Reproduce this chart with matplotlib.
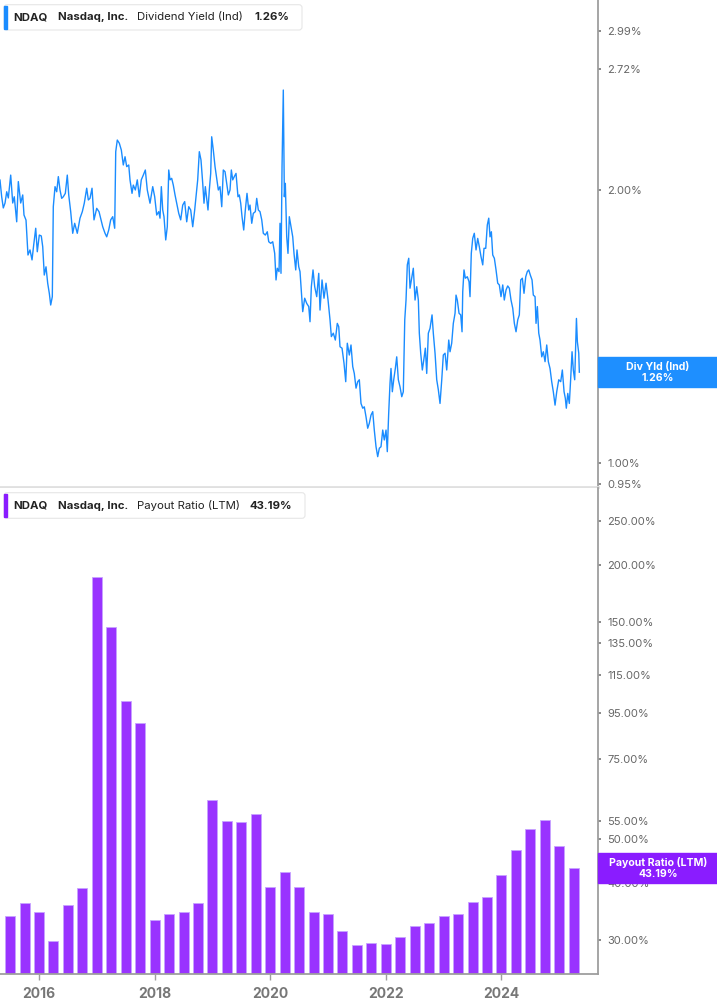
import matplotlib
matplotlib.use('Agg')
import matplotlib.pyplot as plt
from matplotlib.patches import Rectangle, FancyBboxPatch
from matplotlib.transforms import IdentityTransform
from matplotlib.ticker import NullLocator

plt.rcParams['font.family'] = ['Inter', 'DejaVu Sans']

# dividend yield (ind), %, decimal years
yield_t = [
    2015.325, 2015.354, 2015.382, 2015.412, 2015.441, 2015.469, 2015.510, 2015.545, 2015.572, 2015.614,
    2015.642, 2015.683, 2015.718, 2015.740, 2015.775, 2015.809, 2015.844, 2015.879, 2015.908, 2015.943,
    2015.970, 2016.005, 2016.039, 2016.064, 2016.091, 2016.121, 2016.150, 2016.178, 2016.202, 2016.230,
    2016.247, 2016.277, 2016.306, 2016.334, 2016.363, 2016.392, 2016.420, 2016.455, 2016.489, 2016.514,
    2016.548, 2016.583, 2016.617, 2016.662, 2016.709, 2016.749, 2016.783, 2016.825, 2016.853, 2016.882,
    2016.917, 2016.951, 2016.998, 2017.038, 2017.072, 2017.102, 2017.142, 2017.171, 2017.206, 2017.240,
    2017.275, 2017.309, 2017.327, 2017.354, 2017.389, 2017.424, 2017.458, 2017.488, 2017.517, 2017.552,
    2017.574, 2017.609, 2017.631, 2017.666, 2017.700, 2017.735, 2017.769, 2017.804, 2017.839, 2017.873,
    2017.908, 2017.920, 2017.967, 2018.001, 2018.036, 2018.071, 2018.093, 2018.116, 2018.140, 2018.162,
    2018.192, 2018.219, 2018.244, 2018.266, 2018.295, 2018.323, 2018.353, 2018.382, 2018.417, 2018.451,
    2018.486, 2018.520, 2018.555, 2018.590, 2018.624, 2018.659, 2018.693, 2018.716, 2018.745, 2018.773,
    2018.802, 2018.832, 2018.854, 2018.877, 2018.901, 2018.923, 2018.946, 2018.970, 2018.987, 2019.015,
    2019.045, 2019.074, 2019.102, 2019.131, 2019.161, 2019.188, 2019.218, 2019.247, 2019.275, 2019.304,
    2019.327, 2019.351, 2019.378, 2019.408, 2019.442, 2019.465, 2019.489, 2019.512, 2019.541, 2019.569,
    2019.598, 2019.628, 2019.650, 2019.680, 2019.707, 2019.742, 2019.766, 2019.794, 2019.823, 2019.853,
    2019.880, 2019.915, 2019.949, 2019.974, 2020.008, 2020.043, 2020.077, 2020.100, 2020.122, 2020.152,
    2020.169, 2020.186, 2020.204, 2020.226, 2020.244, 2020.261, 2020.285, 2020.307, 2020.330, 2020.359,
    2020.389, 2020.411, 2020.441, 2020.463, 2020.493, 2020.515, 2020.562, 2020.596, 2020.631, 2020.666,
    2020.688, 2020.711, 2020.740, 2020.769, 2020.804, 2020.839, 2020.861, 2020.896, 2020.930, 2020.965,
    2021.000, 2021.034, 2021.057, 2021.091, 2021.126, 2021.160, 2021.185, 2021.207, 2021.242, 2021.276,
    2021.306, 2021.333, 2021.368, 2021.397, 2021.427, 2021.454, 2021.484, 2021.513, 2021.541, 2021.570,
    2021.600, 2021.627, 2021.657, 2021.686, 2021.714, 2021.743, 2021.773, 2021.800, 2021.830, 2021.859,
    2021.887, 2021.916, 2021.946, 2021.973, 2022.003, 2022.025, 2022.049, 2022.072, 2022.089, 2022.112,
    2022.136, 2022.164, 2022.188, 2022.216, 2022.245, 2022.275, 2022.302, 2022.327, 2022.349, 2022.371,
    2022.396, 2022.418, 2022.447, 2022.475, 2022.505, 2022.534, 2022.562, 2022.579, 2022.603, 2022.631,
    2022.660, 2022.683, 2022.707, 2022.735, 2022.764, 2022.799, 2022.821, 2022.851, 2022.880, 2022.908,
    2022.937, 2022.967, 2022.994, 2023.024, 2023.053, 2023.088, 2023.110, 2023.139, 2023.167, 2023.197,
    2023.214, 2023.236, 2023.266, 2023.295, 2023.318, 2023.330, 2023.352, 2023.375, 2023.409, 2023.439,
    2023.456, 2023.478, 2023.503, 2023.530, 2023.560, 2023.589, 2023.617, 2023.646, 2023.676, 2023.698,
    2023.728, 2023.755, 2023.780, 2023.802, 2023.825, 2023.849, 2023.877, 2023.906, 2023.935, 2023.963,
    2023.992, 2024.022, 2024.049, 2024.079, 2024.108, 2024.136, 2024.165, 2024.195, 2024.223, 2024.252,
    2024.282, 2024.309, 2024.333, 2024.361, 2024.390, 2024.420, 2024.447, 2024.472, 2024.499, 2024.529,
    2024.551, 2024.581, 2024.598, 2024.621, 2024.645, 2024.667, 2024.697, 2024.724, 2024.754, 2024.783,
    2024.811, 2024.840, 2024.869, 2024.897, 2024.927, 2024.956, 2024.991, 2025.025, 2025.053, 2025.083,
    2025.105, 2025.122, 2025.147, 2025.174, 2025.198, 2025.221, 2025.243, 2025.267, 2025.297, 2025.313,
    2025.337, 2025.347,
]
yield_v = [
    2.051, 1.966, 1.911, 1.935, 1.991, 1.960, 2.077, 1.935, 1.966, 1.845,
    2.043, 1.935, 1.975, 1.877, 1.853, 1.696, 1.718, 1.675, 1.740, 1.815,
    1.710, 1.784, 1.780, 1.732, 1.612, 1.646, 1.579, 1.539, 1.494, 1.526,
    1.917, 2.017, 1.991, 2.069, 2.000, 1.958, 1.966, 1.983, 2.077, 1.975,
    1.893, 1.792, 1.838, 1.792, 1.862, 1.893, 1.934, 2.009, 1.950, 1.958,
    2.009, 1.854, 1.909, 1.893, 1.854, 1.822, 1.792, 1.776, 1.807, 1.854,
    1.869, 1.815, 2.204, 2.270, 2.252, 2.213, 2.131, 2.176, 2.122, 2.131,
    2.052, 1.983, 2.025, 2.000, 2.052, 1.966, 2.052, 2.077, 2.104, 2.000,
    1.950, 1.934, 2.017, 1.966, 1.877, 1.893, 1.862, 2.017, 1.901, 1.869,
    1.762, 1.822, 2.104, 2.052, 2.060, 2.025, 1.975, 1.934, 1.885, 1.854,
    1.925, 1.942, 1.845, 1.917, 1.901, 1.822, 1.901, 1.966, 2.052, 2.204,
    2.158, 2.034, 1.934, 2.017, 1.958, 1.901, 2.000, 2.086, 2.289, 2.213,
    2.122, 2.060, 2.000, 2.017, 1.917, 2.104, 2.095, 2.034, 1.975, 2.000,
    2.104, 2.052, 2.069, 2.086, 1.966, 1.975, 1.934, 1.869, 1.807, 1.901,
    1.983, 1.901, 1.925, 1.838, 1.885, 1.893, 1.958, 1.901, 1.893, 1.854,
    1.792, 1.784, 1.799, 1.754, 1.747, 1.754, 1.703, 1.592, 1.640, 1.626,
    1.838, 1.619, 2.122, 2.577, 1.966, 2.034, 1.776, 1.703, 1.869, 1.822,
    1.776, 1.703, 1.633, 1.718, 1.646, 1.626, 1.469, 1.520, 1.500, 1.488,
    1.432, 1.565, 1.633, 1.565, 1.526, 1.619, 1.475, 1.592, 1.520, 1.579,
    1.513, 1.439, 1.379, 1.391, 1.367, 1.426, 1.414, 1.344, 1.339, 1.289,
    1.230, 1.356, 1.316, 1.350, 1.278, 1.256, 1.210, 1.230, 1.236, 1.164,
    1.150, 1.154, 1.125, 1.093, 1.107, 1.130, 1.140, 1.088, 1.043, 1.017,
    1.039, 1.043, 1.088, 1.061, 1.088, 1.030, 1.135, 1.225, 1.272, 1.199,
    1.236, 1.272, 1.310, 1.236, 1.214, 1.184, 1.199, 1.439, 1.513, 1.654,
    1.682, 1.559, 1.599, 1.640, 1.513, 1.565, 1.513, 1.391, 1.322, 1.267,
    1.305, 1.339, 1.256, 1.391, 1.408, 1.457, 1.391, 1.322, 1.236, 1.205,
    1.164, 1.236, 1.316, 1.322, 1.267, 1.367, 1.327, 1.356, 1.426, 1.463,
    1.532, 1.513, 1.463, 1.457, 1.396, 1.545, 1.633, 1.599, 1.605, 1.585,
    1.526, 1.703, 1.769, 1.792, 1.718, 1.769, 1.732, 1.689, 1.654, 1.725,
    1.725, 1.830, 1.862, 1.776, 1.799, 1.696, 1.682, 1.633, 1.579, 1.572,
    1.526, 1.572, 1.513, 1.552, 1.568, 1.559, 1.513, 1.482, 1.426, 1.396,
    1.439, 1.457, 1.592, 1.599, 1.539, 1.605, 1.626, 1.633, 1.612, 1.592,
    1.532, 1.526, 1.426, 1.488, 1.391, 1.367, 1.310, 1.327, 1.294, 1.350,
    1.294, 1.272, 1.230, 1.199, 1.159, 1.199, 1.236, 1.230, 1.267, 1.199,
    1.179, 1.150, 1.194, 1.164, 1.241, 1.327, 1.267, 1.236, 1.444, 1.361,
    1.322, 1.260,
]

# payout ratio (LTM), % per quarter
payout_q = [
    '2015Q2', '2015Q3', '2015Q4', '2016Q1', '2016Q2', '2016Q3', '2016Q4', '2017Q1',
    '2017Q2', '2017Q3', '2017Q4', '2018Q1', '2018Q2', '2018Q3', '2018Q4', '2019Q1',
    '2019Q2', '2019Q3', '2019Q4', '2020Q1', '2020Q2', '2020Q3', '2020Q4', '2021Q1',
    '2021Q2', '2021Q3', '2021Q4', '2022Q1', '2022Q2', '2022Q3', '2022Q4', '2023Q1',
    '2023Q2', '2023Q3', '2023Q4', '2024Q1', '2024Q2', '2024Q3', '2024Q4', '2025Q1',
]
payout_v = [
    33.9, 36.3, 34.7, 29.9, 35.8, 39.0, 188.7, 146.5,
    100.7, 90.1, 33.3, 34.3, 34.7, 36.2, 61.0, 54.9,
    54.6, 56.8, 39.3, 42.4, 39.2, 34.6, 34.3, 31.4,
    29.3, 29.6, 29.4, 30.5, 32.2, 32.8, 34.0, 34.3,
    36.5, 37.3, 41.7, 47.4, 52.7, 55.1, 48.3, 43.19,
]

yield_ticks = [0.95, 1.00, 2.00, 2.72, 2.99]
payout_ticks = [30, 40, 50, 55, 75, 95, 115, 135, 150, 200, 250]
year_ticks = [2016, 2018, 2020, 2022, 2024]

BLUE = '#1a8cff'
PURPLE = '#9933ff'
PURPLE_BOX = '#8a1cff'
AXIS = '#9e9e9e'
TICKTXT = '#666666'

# quarter end as decimal year
payout_t = [int(q[:4]) + int(q[-1]) * 0.25 for q in payout_q]

W, H = 717, 1005
fig = plt.figure(figsize=(W / 100, H / 100), dpi=100)
ax1 = fig.add_axes([0, 1 - 487 / H, 598 / W, 487 / H])
ax2 = fig.add_axes([0, 1 - 974 / H, 598 / W, 486 / H])

xlim = (2015.325, 2025.67)

# top panel: dividend yield line
ax1.plot(yield_t, yield_v, color=BLUE, lw=1.0)
ax1.set_yscale('log')
ax1.set_xlim(*xlim)
ax1.set_ylim(0.9417, 3.238)
ax1.set_yticks(yield_ticks)
ax1.set_yticklabels(['%.2f%%' % v for v in yield_ticks])
ax1.set_xticks([])

# bottom panel: payout ratio bars
ax2.bar(payout_t, payout_v, width=0.173, color=PURPLE, edgecolor='#c7a3ff', linewidth=0.6)
ax2.set_yscale('log')
ax2.set_xlim(*xlim)
ax2.set_ylim(25.3, 296)
ax2.set_yticks(payout_ticks)
ax2.set_yticklabels(['%.2f%%' % v for v in payout_ticks])
ax2.set_xticks(year_ticks)
ax2.set_xticklabels([str(y) for y in year_ticks], fontweight='bold', color='#777777', fontsize=10)
ax2.tick_params(axis='x', length=4, width=1, color=AXIS, pad=5)

for ax in (ax1, ax2):
    ax.yaxis.set_minor_locator(NullLocator())
    ax.xaxis.set_minor_locator(NullLocator())
    ax.yaxis.tick_right()
    ax.tick_params(axis='y', length=2.5, width=1.2, color='#777777', labelcolor=TICKTXT,
                   labelsize=8, pad=4)
    ax.spines['left'].set_visible(False)
    ax.spines['top'].set_visible(False)
    ax.spines['right'].set_color(AXIS)
    ax.spines['right'].set_linewidth(1.3)
    ax.set_facecolor('white')
ax1.spines['bottom'].set_color('#e0e0e0')
ax1.spines['bottom'].set_linewidth(2)
ax2.spines['bottom'].set_color(AXIS)
ax2.spines['bottom'].set_linewidth(1.3)

px = IdentityTransform()


def legend_box(top, bottom, right, color, parts):
    fig.patches.append(FancyBboxPatch((4, H - bottom), right - 4, bottom - top,
                                      boxstyle='round,pad=0,rounding_size=3',
                                      facecolor='white', edgecolor='#e6e6e6', lw=0.8,
                                      transform=px, figure=fig, zorder=5))
    fig.patches.append(Rectangle((4, H - bottom + 1), 3, bottom - top - 2, color=color,
                                 transform=px, figure=fig, zorder=6))
    yc = H - (top + bottom) / 2
    for x, s, w in parts:
        fig.text(x, yc, s, transform=px, fontsize=8.2, fontweight=w, color='#222222',
                 va='center', ha='left', zorder=7)


legend_box(4.7, 30, 302, BLUE, [(13, 'NDAQ', 'bold'), (58, 'Nasdaq, Inc.', 'bold'),
                                 (137, 'Dividend Yield (Ind)', 'normal'), (254, '1.26%', 'bold')])
legend_box(492.7, 518.3, 305, PURPLE_BOX, [(13, 'NDAQ', 'bold'), (58, 'Nasdaq, Inc.', 'bold'),
                                           (137, 'Payout Ratio (LTM)', 'normal'), (249, '43.19%', 'bold')])


def value_box(ax, val, color, line1, line2):
    yc = ax.transData.transform((xlim[1], val))[1]
    fig.patches.append(Rectangle((598, yc - 15), W - 598, 30, color=color,
                                 transform=px, figure=fig, zorder=5))
    fig.text(658, yc + 5.5, line1, transform=px, fontsize=7.6, fontweight='bold', color='white',
             ha='center', va='center', zorder=7)
    fig.text(658, yc - 5.5, line2, transform=px, fontsize=7.6, fontweight='bold', color='white',
             ha='center', va='center', zorder=7)


value_box(ax1, yield_v[-1], '#1e8fff', 'Div Yld (Ind)', '1.26%')
value_box(ax2, payout_v[-1], PURPLE_BOX, 'Payout Ratio (LTM)', '43.19%')

fig.savefig('out.png', dpi=100)
